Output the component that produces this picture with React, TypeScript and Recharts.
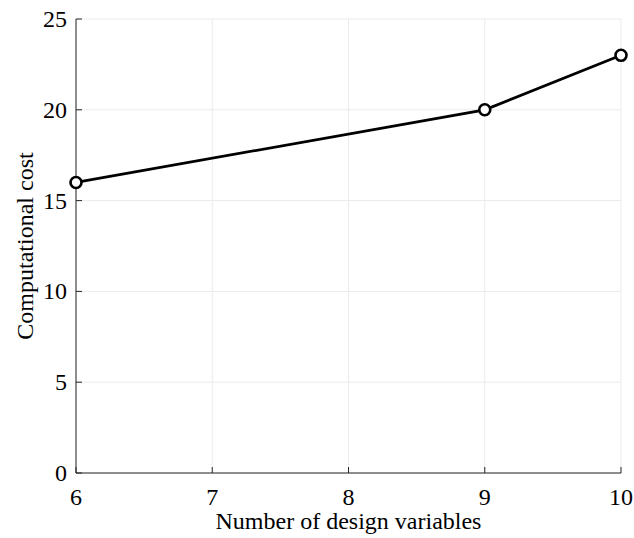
import React from 'react';
import { LineChart, Line, XAxis, YAxis, CartesianGrid } from 'recharts';

const designVars = [6, 9, 10];
const costs = [16, 20, 23];
const xTicks = [6, 7, 8, 9, 10];
const yTicks = [0, 5, 10, 15, 20, 25];

const data = designVars.map((v, i) => ({ n: v, cost: costs[i] }));

const FONT = '"Liberation Serif", "Times New Roman", serif';
const AXIS = '#262626';
const TICK_LEN = 6;

const renderBottomTick = (props: any) => {
  const { x, y, payload } = props;
  return (
    <g key={`b-${payload.value}`}>
      <line x1={x} y1={y} x2={x} y2={y - TICK_LEN} stroke={AXIS} strokeWidth={1} />
      <text x={x} y={y + 32} textAnchor="middle" fontFamily={FONT} fontSize={24} fill="#000">
        {payload.value}
      </text>
    </g>
  );
};

const renderLeftTick = (props: any) => {
  const { x, y, payload } = props;
  return (
    <g key={`l-${payload.value}`}>
      <line x1={x} y1={y} x2={x + TICK_LEN} y2={y} stroke={AXIS} strokeWidth={1} />
      <text x={x - 9} y={y + 8} textAnchor="end" fontFamily={FONT} fontSize={24} fill="#000">
        {payload.value}
      </text>
    </g>
  );
};

const renderTopTick = (props: any) => {
  const { x, y, payload } = props;
  return <line key={`t-${payload.value}`} x1={x} y1={y} x2={x} y2={y + TICK_LEN} stroke={AXIS} strokeWidth={1} />;
};

const renderRightTick = (props: any) => {
  const { x, y, payload } = props;
  return <line key={`r-${payload.value}`} x1={x} y1={y} x2={x - TICK_LEN} y2={y} stroke={AXIS} strokeWidth={1} />;
};

const XLabel = (props: any) => {
  const { viewBox } = props;
  const cx = viewBox.x + viewBox.width / 2;
  return (
    <text x={cx} y={viewBox.y + 56} textAnchor="middle" fontFamily={FONT} fontSize={24} fill="#000">
      Number of design variables
    </text>
  );
};

const YLabel = (props: any) => {
  const { viewBox } = props;
  const cy = viewBox.y + viewBox.height / 2;
  const x = 33;
  return (
    <text
      x={x}
      y={cy}
      transform={`rotate(-90, ${x}, ${cy})`}
      textAnchor="middle"
      fontFamily={FONT}
      fontSize={24}
      fill="#000"
    >
      Computational cost
    </text>
  );
};

const App = () => {
  return (
    <div style={{ position: 'absolute', left: 0, top: 0, background: '#fff' }}>
      <LineChart width={634} height={538} data={data} margin={{ top: 19, right: 13, bottom: 0, left: 0 }}>
        <CartesianGrid stroke="#ebebeb" strokeWidth={1} horizontal vertical />
        <XAxis
          dataKey="n"
          type="number"
          domain={[6, 10]}
          ticks={xTicks}
          height={65}
          tickSize={0}
          tickMargin={0}
          tickLine={false}
          axisLine={{ stroke: AXIS, strokeWidth: 1 }}
          tick={renderBottomTick}
          label={<XLabel />}
        />
        <XAxis
          xAxisId="top"
          orientation="top"
          dataKey="n"
          type="number"
          domain={[6, 10]}
          ticks={xTicks}
          height={0}
          tickSize={0}
          tickMargin={0}
          tickLine={false}
          axisLine={{ stroke: AXIS, strokeWidth: 1 }}
          tick={renderTopTick}
        />
        <YAxis
          type="number"
          domain={[0, 25]}
          ticks={yTicks}
          width={76}
          tickSize={0}
          tickMargin={0}
          tickLine={false}
          axisLine={{ stroke: AXIS, strokeWidth: 1 }}
          tick={renderLeftTick}
          label={<YLabel />}
        />
        <YAxis
          yAxisId="right"
          orientation="right"
          type="number"
          domain={[0, 25]}
          ticks={yTicks}
          width={0}
          tickSize={0}
          tickMargin={0}
          tickLine={false}
          axisLine={{ stroke: AXIS, strokeWidth: 1 }}
          tick={renderRightTick}
        />
        <Line
          dataKey="cost"
          stroke="#000"
          strokeWidth={2.8}
          dot={{ r: 5.5, stroke: '#000', strokeWidth: 2.6, fill: '#fff' }}
          activeDot={false}
          isAnimationActive={false}
        />
      </LineChart>
    </div>
  );
};

export default App;
